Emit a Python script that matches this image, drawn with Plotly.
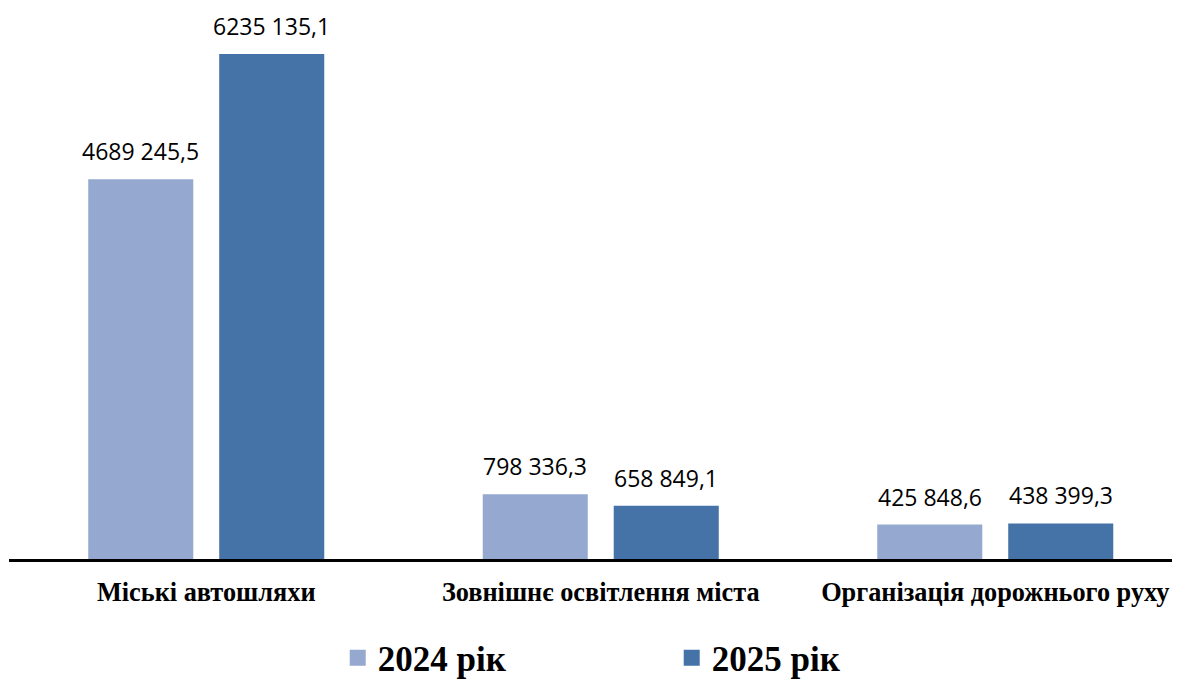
import plotly.graph_objects as go

categories = ["Міські автошляхи", "Зовнішнє освітлення міста", "Організація дорожнього руху"]
series_names = ["2024 рік", "2025 рік"]
values_2024 = [4689245.5, 798336.3, 425848.6]
values_2025 = [6235135.1, 658849.1, 438399.3]

colors = ["#95A9D0", "#4572A7"]


def fmt(v):
    whole = int(v)
    dec = int(round((v - whole) * 10))
    if whole >= 1000:
        s = f"{whole // 1000} {whole % 1000:03d}"
    else:
        s = str(whole)
    return f"{s},{dec}"


BODY = 8  # default page body margin
W, H = 1180 - 2 * BODY, 691 - 2 * BODY
ml, mr, mt, mb = 9 - BODY, 0, 10 - BODY, (691 - 559) - BODY
plot_w = W - ml - mr
band_px = 394.5
x_range = [-0.5, -0.5 + plot_w / band_px]
y_px_per_unit = 505 / 6235135.1
plot_h = H - mt - mb
y_range = [0, plot_h / y_px_per_unit]

fig = go.Figure()
for name, vals, col in zip(series_names, [values_2024, values_2025], colors):
    fig.add_trace(go.Bar(x=categories, y=vals, name=name, marker_color=col,
                         marker_line_width=0, showlegend=False))
for name, col in zip(series_names, colors):
    fig.add_trace(go.Scatter(x=[None], y=[None], mode="markers", name=f"<b>{name}</b>",
                             marker=dict(symbol="square", size=19, color=col)))

# value labels
offsets = [-65.5, 65.5]
for vals, off in zip([values_2024, values_2025], offsets):
    for c, v in zip(categories, vals):
        fig.add_annotation(x=c, y=v, text=fmt(v), showarrow=False,
                           xshift=off, yanchor="bottom", yshift=10,
                           font=dict(family="Open Sans", size=23, color="#000000"))

legend_y = -(658 - 559) / plot_h

fig.update_layout(
    width=W, height=H,
    margin=dict(l=ml, r=mr, t=mt, b=mb, autoexpand=False),
    plot_bgcolor="white", paper_bgcolor="white",
    barmode="group", bargap=0.336, bargroupgap=0.198,
    showlegend=True,
    legend=dict(orientation="h", x=(318 + 11) / W, xanchor="left", y=legend_y, yanchor="middle",
                font=dict(family="Liberation Serif", size=35, color="#000000"),
                entrywidth=289, entrywidthmode="pixels", itemclick=False,
                bgcolor="rgba(0,0,0,0)"),
)
fig.update_xaxes(range=x_range, showline=True, linecolor="#000000", linewidth=2.5,
                 showgrid=False, zeroline=False, ticks="", ticklabelstandoff=8,
                 tickfont=dict(family="Liberation Serif", size=26.3, color="#000000"),
                 tickprefix="<b>", ticksuffix="</b>")
fig.update_yaxes(range=y_range, visible=False, showgrid=False, zeroline=False)

fig.write_html("out.html")
